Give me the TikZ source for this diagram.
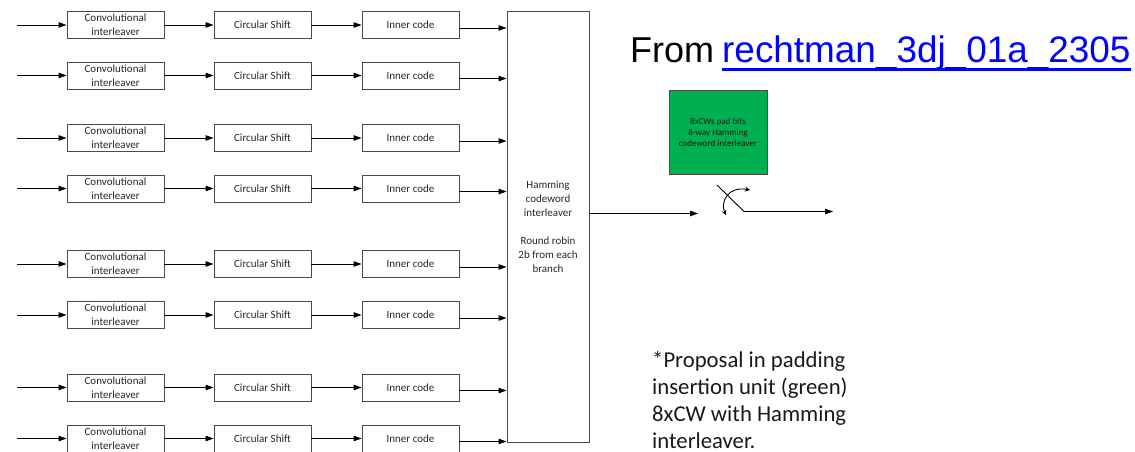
\documentclass[tikz,border=0pt]{standalone}
\usepackage{fontspec}
\setmainfont{Carlito}
\newfontfamily\arialfont{Liberation Sans}
\usetikzlibrary{arrows.meta}
\definecolor{padgreen}{HTML}{00B050}
\definecolor{linkblue}{HTML}{0000FF}
\definecolor{boxline}{HTML}{4A4A4A}
\tikzset{
  blk/.style={draw=boxline, line width=0.9pt, minimum width=97pt, minimum height=27pt,
    inner sep=0pt, align=center, font=\fontsize{11}{14}\selectfont, text=black!85},
  arr/.style={line width=0.9pt, -{Triangle[length=8pt,width=5.5pt]}},
}
\begin{document}
\begin{tikzpicture}[x=1pt, y=-1pt]
\useasboundingbox (0,0) rectangle (1135,452);

% eight parallel branches
\foreach \i/\y in {1/25, 2/75.5, 3/138, 4/188.5, 5/264, 6/315, 7/387.5, 8/438.5} {
  \coordinate (src\i) at (17,\y);
  \node[blk] (cv\i) at (115.5,\y) {Convolutional\\interleaver};
  \node[blk] (cs\i) at (262.5,\y) {Circular Shift};
  \node[blk] (ic\i) at (410.5,\y) {Inner code};
}

% combining interleaver
\node[draw=boxline, line width=0.9pt, minimum width=82pt, minimum height=431pt, inner sep=0pt,
  align=center, font=\fontsize{11}{14}\selectfont, text=black!85] (ham) at (548,226.5)
  {Hamming\\codeword\\interleaver\\[14pt]Round robin\\2b from each\\branch};

\foreach \i in {1,...,8} {
  \draw[arr] (src\i) -- (cv\i.west);
  \draw[arr] (cv\i.east) -- (cs\i.west);
  \draw[arr] (cs\i.east) -- (ic\i.west);
  \draw[arr] ([yshift=-3pt]ic\i.east) -- ([yshift=-3pt]ic\i.east -| ham.west);
}

% padding insertion unit and switch
\node[draw=boxline, line width=0.9pt, fill=padgreen, minimum width=98pt, minimum height=84pt,
  inner sep=0pt, align=center, font=\fontsize{9}{11}\selectfont, text=black!90] (pad) at (718,132)
  {8xCWs pad bits\\8-way Hamming\\codeword interleaver};

\coordinate (swin) at (698,213.5);
\coordinate (s1) at (717,185);
\coordinate (s2) at (744,211.5);
\coordinate (sout) at (833,211.5);
\coordinate (c1) at (750,190);
\coordinate (c2) at (726,215);
\draw[arr] ([yshift=13pt]ham.east) -- (swin);
\draw[arr] (s1) -- (s2) -- (sout);
\draw[line width=0.9pt, {Stealth[length=5pt,width=5pt]}-{Stealth[length=5pt,width=5pt]}]
  (c1) .. controls (728,186) and (720,202) .. (c2);

% source reference
\node[anchor=base west, inner sep=0pt, font=\arialfont\fontsize{36}{40}\selectfont] (from) at (630,63) {From};
\node[anchor=base west, inner sep=0pt, font=\arialfont\fontsize{36.9}{40}\selectfont, text=linkblue] (link) at (722,63) {rechtman\_3dj\_01a\_2305};
\draw[linkblue, line width=3.2pt] ([yshift=-6.2pt]link.base west) -- ([yshift=-6.2pt]link.base east);

% note
\node[anchor=north west, inner sep=0pt, align=left, font=\fontsize{22.7}{27}\selectfont, text=black!90] (note) at (652,351)
  {*Proposal in padding\\insertion unit (green)\\8xCW with Hamming\\interleaver.};
\end{tikzpicture}
\end{document}
